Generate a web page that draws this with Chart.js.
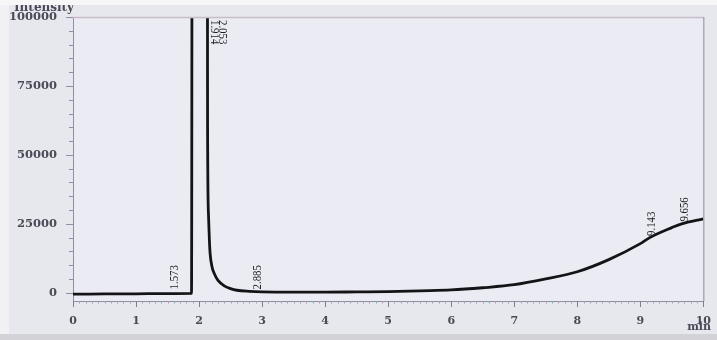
<!DOCTYPE html>
<html>
<head>
<meta charset="utf-8">
<script src="https://cdn.jsdelivr.net/npm/chart.js@4/dist/chart.umd.min.js"></script>
<style>
    body { margin: 0; background: #e8e8ef; }
    canvas { display: block; }
</style>
</head>
<body>
<canvas id="chrom" width="717" height="340"></canvas>
<script>
// Retention time (min) and detector intensity
const times = [0, 0.5, 1.0, 1.5, 1.88, 1.9, 2.12, 2.135, 2.15, 2.17, 2.2, 2.25, 2.3, 2.4, 2.5, 2.6, 2.8, 3.0,
    3.5, 4.0, 4.5, 5.0, 5.5, 6.0, 6.5, 7.0, 7.5, 8.0, 8.5, 9.0, 9.143, 9.5, 9.656, 10.0];
const intensity = [-500, -450, -400, -300, -250, 400000, 400000, 60000, 28000, 16000, 10000, 6500, 4500, 2500, 1500, 900, 500, 300,
    200, 200, 300, 400, 700, 1000, 1800, 2900, 5000, 7600, 12000, 17800, 19900, 23600, 25000, 26800];

// Peak annotations: retention time and the level the label starts from
const peakTimes = [1.573, 2.885, 9.143, 9.656];
const peakLevels = [1200, 1200, 20600, 25800];
// Off-scale peaks labelled at the top of the plot
const topPeakTimes = [1.914, 2.053];

const yMajorTicks = [0, 25000, 50000, 75000, 100000];
const xTicks = [0, 1, 2, 3, 4, 5, 6, 7, 8, 9, 10];

const points = times.map((t, i) => ({ x: t, y: intensity[i] }));

const paperPlugin = {
    id: 'paper',
    beforeDraw(chart) {
        const ctx = chart.ctx;
        const a = chart.chartArea;
        ctx.save();
        ctx.fillStyle = '#e7e7ee';
        ctx.fillRect(0, 0, chart.width, chart.height);
        ctx.fillStyle = '#ebebf3';
        ctx.fillRect(a.left, a.top, a.right - a.left, a.bottom - a.top);
        // lighter photo edge on the left
        ctx.fillStyle = '#f1f1f4';
        ctx.fillRect(0, 0, 9, chart.height);
        ctx.restore();
    },
    afterDraw(chart) {
        const ctx = chart.ctx;
        const a = chart.chartArea;
        const xs = chart.scales.x;
        const ys = chart.scales.y;
        ctx.save();

        // top and right frame lines
        ctx.strokeStyle = '#c9bcc6';
        ctx.lineWidth = 1.5;
        ctx.beginPath();
        ctx.moveTo(a.left, a.top + 0.5);
        ctx.lineTo(a.right, a.top + 0.5);
        ctx.stroke();
        ctx.strokeStyle = '#8c8c9e';
        ctx.lineWidth = 1;
        ctx.beginPath();
        ctx.moveTo(a.right + 0.5, a.top);
        ctx.lineTo(a.right + 0.5, a.bottom);
        ctx.stroke();

        // y ticks: major every 25000, minor every 5000
        ctx.strokeStyle = '#8e8ea4';
        for (let v = 0; v <= 100000; v += 5000) {
            const py = Math.round(ys.getPixelForValue(v)) + 0.5;
            const len = yMajorTicks.includes(v) ? 7 : 4;
            ctx.beginPath();
            ctx.moveTo(a.left - len, py);
            ctx.lineTo(a.left, py);
            ctx.stroke();
        }

        // x ticks: major each minute, minor every 0.1 min
        for (let i = 0; i <= 100; i++) {
            const px = Math.round(xs.getPixelForValue(i / 10)) + 0.5;
            const major = i % 10 === 0;
            ctx.strokeStyle = major ? '#7e7e92' : (i % 2 ? '#b59aa8' : '#8fa0b8');
            ctx.beginPath();
            ctx.moveTo(px, a.bottom);
            ctx.lineTo(px, a.bottom + (major ? 6 : 2.5));
            ctx.stroke();
        }

        // axis titles
        ctx.fillStyle = '#4a4a56';
        ctx.font = 'bold 11px "DejaVu Serif"';
        ctx.textAlign = 'right';
        ctx.textBaseline = 'alphabetic';
        ctx.fillText('min', 711, 330);
        ctx.font = 'bold 12px "DejaVu Serif"';
        ctx.textAlign = 'left';
        ctx.fillText('Intensity', 14, 11);

        // photo edges: white strip at top, grey strip at bottom
        ctx.fillStyle = '#f7f7f8';
        ctx.fillRect(0, 0, chart.width, 5);
        ctx.fillStyle = '#d2d2d7';
        ctx.fillRect(0, 334, chart.width, chart.height - 334);
        ctx.restore();
    }
};

const peakLabelPlugin = {
    id: 'peakLabels',
    afterDatasetsDraw(chart) {
        const ctx = chart.ctx;
        const xs = chart.scales.x;
        const ys = chart.scales.y;
        const a = chart.chartArea;
        ctx.save();
        ctx.fillStyle = '#1e1e22';
        ctx.font = '12px "Liberation Serif"';
        ctx.textBaseline = 'middle';

        peakTimes.forEach((t, i) => {
            ctx.save();
            ctx.translate(xs.getPixelForValue(t) + 3, ys.getPixelForValue(peakLevels[i]));
            ctx.rotate(-Math.PI / 2);
            ctx.scale(0.9, 1);
            ctx.textAlign = 'left';
            ctx.fillText(t.toFixed(3), 0, 0);
            ctx.restore();
        });

        topPeakTimes.forEach((t, i) => {
            ctx.save();
            ctx.translate(xs.getPixelForValue(t) + 21 - i * 1, a.top + 3);
            ctx.rotate(Math.PI / 2);
            ctx.scale(0.9, 1);
            ctx.textAlign = 'left';
            ctx.fillText(t.toFixed(3), 0, 0);
            ctx.restore();
        });
        ctx.restore();
    }
};

new Chart(document.getElementById('chrom').getContext('2d'), {
    type: 'line',
    data: {
        datasets: [{
            data: points,
            borderColor: '#141416',
            borderWidth: 2.8,
            pointRadius: 0,
            fill: false,
            cubicInterpolationMode: 'monotone'
        }]
    },
    options: {
        responsive: false,
        animation: false,
        devicePixelRatio: 1,
        layout: { padding: { top: 17, right: 5, left: 0, bottom: 0 } },
        plugins: {
            legend: { display: false },
            tooltip: { enabled: false }
        },
        scales: {
            x: {
                type: 'linear',
                min: 0,
                max: 10,
                afterFit: scale => { scale.height = 39; },
                afterBuildTicks: scale => { scale.ticks = xTicks.map(v => ({ value: v })); },
                grid: { display: false },
                border: { color: '#8e8ea4', width: 1 },
                ticks: {
                    color: '#4a4a56',
                    font: { family: 'DejaVu Serif', size: 11, weight: 'bold' },
                    padding: 6,
                    maxRotation: 0,
                    autoSkip: false
                }
            },
            y: {
                min: -3000,
                max: 100000,
                afterFit: scale => { scale.width = 73; },
                afterBuildTicks: scale => { scale.ticks = yMajorTicks.map(v => ({ value: v })); },
                grid: { display: false },
                border: { color: '#8e8ea4', width: 1 },
                ticks: {
                    color: '#4a4a56',
                    font: { family: 'DejaVu Serif', size: 11.5, weight: 'bold' },
                    padding: 8,
                    autoSkip: false,
                    callback: v => String(v)
                }
            }
        }
    },
    plugins: [paperPlugin, peakLabelPlugin]
});
</script>
</body>
</html>
